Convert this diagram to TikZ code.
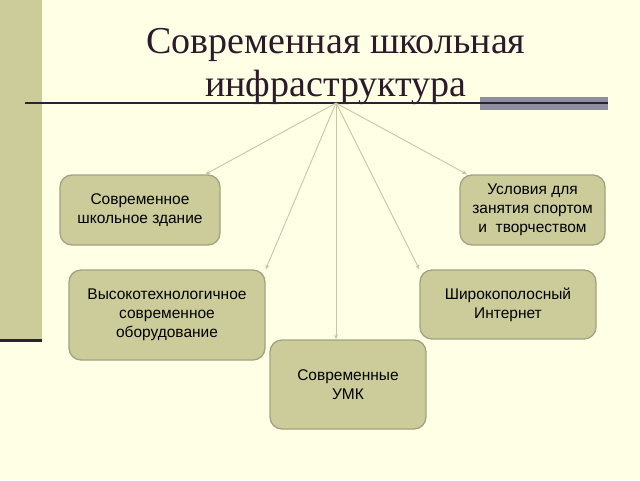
\documentclass[tikz,border=0pt]{standalone}
\usepackage{fontspec}
\setmainfont{Liberation Serif}
\newfontfamily\boxfont{Liberation Sans}
\usetikzlibrary{arrows.meta}
\definecolor{slidebg}{HTML}{FFFFE6}
\definecolor{khaki}{HTML}{CCCC9A}
\definecolor{khakiedge}{HTML}{A2A282}
\definecolor{titleink}{HTML}{2C1A2C}
\definecolor{rule}{HTML}{2E2035}
\definecolor{rulebar}{HTML}{8E8E9E}
\definecolor{link}{HTML}{C6C6A6}
\begin{document}
\begin{tikzpicture}[x=1pt,y=-1pt,
    item/.style={draw=khakiedge, line width=1.3pt, fill=khaki, rounded corners=12pt,
      align=center, inner sep=2pt, font=\boxfont\fontsize{15.5}{19}\selectfont},
    link/.style={draw=link, line width=0.9pt, -{Stealth[length=5pt,width=4pt]}}]
  \useasboundingbox (0,0) rectangle (640,480);
  \fill[slidebg] (0,0) rectangle (640,480);
  % left band
  \fill[khaki] (0,0) rectangle (42,340);
  \fill[rule] (0,339) rectangle (42,342);
  % title
  \node[anchor=base, text=titleink, font=\fontsize{38}{43}\selectfont] (title1) at (336,53) {Современная школьная};
  \node[anchor=base, text=titleink, font=\fontsize{38}{43}\selectfont] (title2) at (336,96) {инфраструктура};
  \fill[rulebar] (480,97) rectangle (608,110);
  \draw[rule, line width=1.5pt] (25,103) -- (608,103);
  \coordinate (hub) at (336,103);

  \node[item, minimum width=160pt, minimum height=70pt] (zdanie) at (140,210) {Современное\\школьное здание};
  \node[item, minimum width=196pt, minimum height=90pt] (oborud) at (167,315) {Высокотехнологичное\\современное\\оборудование};
  \node[item, minimum width=156pt, minimum height=89pt] (umk) at (348,384.5) {Современные\\УМК};
  \node[item, minimum width=176pt, minimum height=69pt] (internet) at (508,304.5) {Широкополосный\\Интернет};
  \node[item, minimum width=145pt, minimum height=70pt] (sport) at (532.5,210) {Условия для\\занятия спортом\\и~ творчеством};

  \draw[link] (hub) -- (zdanie);
  \draw[link] (hub) -- (oborud.north east);
  \draw[link] (hub) -- (hub |- umk.north);
  \draw[link] (hub) -- (internet.north west);
  \draw[link] (hub) -- (sport);
\end{tikzpicture}
\end{document}
